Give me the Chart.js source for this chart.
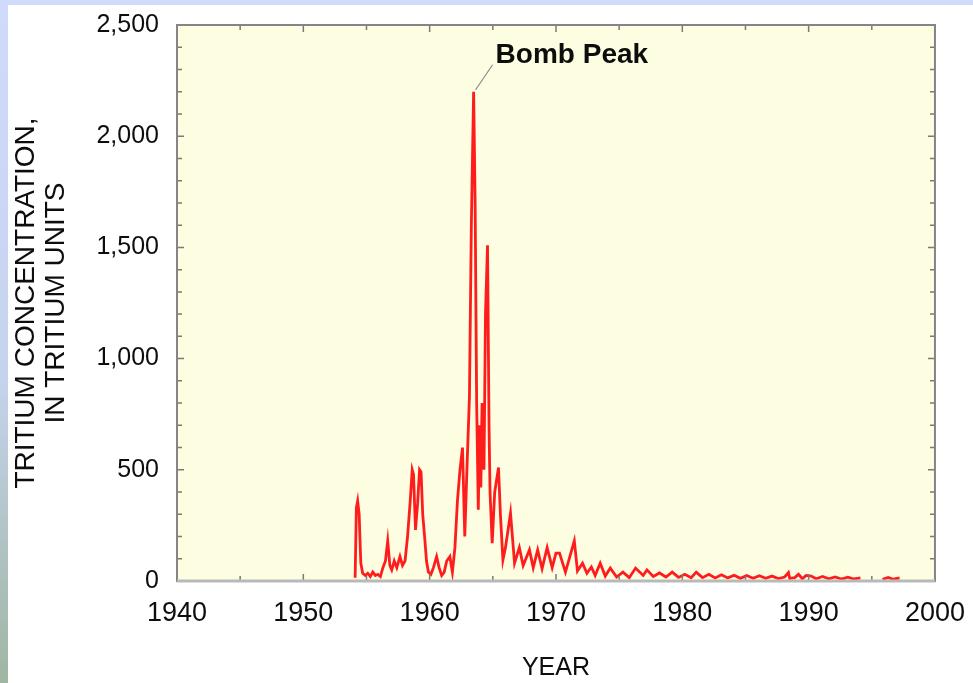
<!DOCTYPE html>
<html>
<head>
<meta charset="utf-8">
<title>Tritium concentration</title>
<script src="https://cdn.jsdelivr.net/npm/chart.js@4"></script>
<style>
    html, body { margin: 0; padding: 0; background: #ffffff; }
    #wrap { width: 973px; height: 683px; position: relative; }
</style>
</head>
<body>
<div id="wrap"><canvas id="tritiumChart"></canvas></div>
<script>
// ปี (ทศนิยม) และค่าทริเทียม อ่านจากภาพ — null = ช่วงที่ไม่มีข้อมูล
const years = [
    1954.10, 1954.20, 1954.30, 1954.42, 1954.55, 1954.70, 1954.90, 1955.10, 1955.30, 1955.50,
    1955.70, 1955.90, 1956.10, 1956.30, 1956.50, 1956.68, 1956.85, 1957.00, 1957.20, 1957.40,
    1957.65, 1957.85, 1958.05, 1958.25, 1958.45, 1958.62, 1958.72, 1958.88, 1959.05, 1959.20,
    1959.32, 1959.45, 1959.60, 1959.75, 1959.90, 1960.10, 1960.30, 1960.55, 1960.75, 1960.95,
    1961.15, 1961.35, 1961.60, 1961.80, 1962.00, 1962.20, 1962.40, 1962.60, 1962.78, 1962.95,
    1963.15, 1963.30, 1963.48, 1963.60, 1963.72, 1963.85, 1963.95, 1964.05, 1964.15, 1964.30,
    1964.42, 1964.58, 1964.70, 1964.78, 1964.95, 1965.15, 1965.45, 1965.60, 1965.80, 1966.00,
    1966.40, 1966.72, 1967.10, 1967.40, 1967.90, 1968.20, 1968.55, 1968.90, 1969.30, 1969.70,
    1970.00, 1970.28, 1970.75, 1971.45, 1971.70, 1972.10, 1972.45, 1972.80, 1973.10, 1973.50,
    1973.90, 1974.30, 1974.80, 1975.30, 1975.80, 1976.30, 1976.90, 1977.20, 1977.70, 1978.20,
    1978.70, 1979.20, 1979.70, 1980.20, 1980.70, 1981.10, 1981.60, 1982.10, 1982.60, 1983.10,
    1983.60, 1984.10, 1984.60, 1985.10, 1985.60, 1986.10, 1986.60, 1987.10, 1987.60, 1988.10,
    1988.40, 1988.50, 1988.90, 1989.20, 1989.50, 1989.80, 1990.20, 1990.60, 1991.10, 1991.60,
    1992.10, 1992.60, 1993.10, 1993.60, 1994.10, 1995.00, 1995.85, 1996.30, 1996.70, 1997.20
];
const tritium = [
    15, 330, 360, 300, 80, 35, 25, 35, 20, 40,
    25, 30, 20, 60, 90, 180, 70, 50, 90, 60,
    110, 70, 90, 200, 350, 500, 480, 230, 350, 500,
    490, 300, 200, 90, 40, 30, 60, 110, 60, 25,
    40, 90, 110, 40, 150, 360, 500, 600, 200, 500,
    830, 1600, 2200, 1700, 800, 320, 700, 420, 800, 500,
    1200, 1510, 700, 400, 170, 400, 510, 300, 95, 150,
    305, 80, 150, 70, 140, 60, 140, 55, 150, 60,
    125, 125, 40, 180, 45, 80, 35, 63, 25, 80,
    22, 58, 18, 40, 15, 58, 25, 50, 20, 36,
    18, 40, 16, 30, 15, 40, 15, 30, 14, 28,
    14, 26, 12, 25, 12, 24, 12, 22, 11, 18,
    38, 12, 15, 30, 10, 25, 22, 10, 20, 10,
    18, 9, 17, 9, 14, null, 8, 16, 8, 14
];
const yearTicks = [1940, 1950, 1960, 1970, 1980, 1990, 2000];
const concTicks = [0, 500, 1000, 1500, 2000, 2500];

const FONT = '"Liberation Sans", Arial, sans-serif';

// พื้นหลัง แถบสีฟ้า กรอบ และขีดสเกลด้านใน
const decorPlugin = {
    id: 'decor',
    beforeDraw(chart) {
        const { ctx, chartArea: a, width, height } = chart;
        ctx.save();
        ctx.fillStyle = '#ffffff';
        ctx.fillRect(0, 0, width, height);
        const g = ctx.createLinearGradient(0, 0, 0, height);
        g.addColorStop(0, '#d0dbfb');
        g.addColorStop(0.55, '#c6d3ee');
        g.addColorStop(1, '#9fb6a2');
        ctx.fillStyle = g;
        ctx.fillRect(0, 0, 8, height);
        ctx.fillStyle = '#d0dbfb';
        ctx.fillRect(0, 0, width, 5);
        ctx.fillStyle = '#fdfde2';
        ctx.fillRect(a.left, a.top, a.right - a.left, a.bottom - a.top);
        ctx.restore();
    },
    afterDraw(chart) {
        const { ctx, chartArea: a, scales } = chart;
        ctx.save();
        ctx.strokeStyle = '#7a7a7a';
        ctx.lineWidth = 1.5;
        for (let v = 0; v <= 2500; v += 100) {
            const y = scales.y.getPixelForValue(v);
            const len = v % 500 === 0 ? 7 : 5;
            ctx.beginPath();
            ctx.moveTo(a.left, y); ctx.lineTo(a.left + len, y);
            ctx.moveTo(a.right, y); ctx.lineTo(a.right - len, y);
            ctx.stroke();
        }
        for (let v = 1940; v <= 2000; v += 5) {
            const x = scales.x.getPixelForValue(v);
            const len = v % 10 === 0 ? 7 : 5;
            ctx.beginPath();
            ctx.moveTo(x, a.bottom); ctx.lineTo(x, a.bottom - len);
            ctx.moveTo(x, a.top); ctx.lineTo(x, a.top + len);
            ctx.stroke();
        }
        ctx.lineWidth = 2;
        ctx.strokeStyle = '#858585';
        ctx.strokeRect(a.left, a.top, a.right - a.left, a.bottom - a.top);
        ctx.strokeStyle = '#b9b9b9';
        ctx.lineWidth = 3;
        ctx.beginPath();
        ctx.moveTo(a.left, a.bottom); ctx.lineTo(a.right, a.bottom);
        ctx.stroke();

        // ป้าย Bomb Peak
        const px = scales.x.getPixelForValue(1963.48);
        const py = scales.y.getPixelForValue(2200);
        ctx.strokeStyle = '#8a8a8a';
        ctx.lineWidth = 1.2;
        ctx.beginPath();
        ctx.moveTo(px + 2, py - 2);
        ctx.lineTo(px + 19, py - 27);
        ctx.stroke();
        ctx.fillStyle = '#0d0d0d';
        ctx.font = 'bold 28px ' + FONT;
        ctx.textAlign = 'left';
        ctx.textBaseline = 'middle';
        ctx.fillText('Bomb Peak', px + 22, py - 36);
        ctx.restore();
    }
};

const points = years.map((yr, i) => ({ x: yr, y: tritium[i] }));

new Chart(document.getElementById('tritiumChart'), {
    type: 'line',
    data: {
        datasets: [{
            label: 'Tritium',
            data: points,
            borderColor: '#ff1c1c',
            borderWidth: 2.8,
            pointRadius: 0,
            tension: 0,
            spanGaps: false,
            fill: false
        }]
    },
    options: {
        responsive: true,
        maintainAspectRatio: false,
        animation: false,
        layout: { padding: { top: 18, right: 32, left: 0, bottom: 0 } },
        plugins: {
            legend: { display: false },
            tooltip: { enabled: false }
        },
        scales: {
            x: {
                type: 'linear',
                min: 1940,
                max: 2000,
                afterBuildTicks: s => { s.ticks = yearTicks.map(v => ({ value: v })); },
                afterFit: s => { s.height = 102; },
                ticks: {
                    padding: 8,
                    color: '#0d0d0d',
                    font: { family: FONT, size: 27 },
                    callback: v => String(v)
                },
                grid: { display: false },
                border: { display: false },
                title: {
                    display: true,
                    text: 'YEAR',
                    color: '#0d0d0d',
                    font: { family: FONT, size: 25 },
                    padding: { top: 24, bottom: 0 }
                }
            },
            y: {
                min: 0,
                max: 2500,
                afterBuildTicks: s => { s.ticks = concTicks.map(v => ({ value: v })); },
                afterFit: s => { s.width = 177; },
                ticks: {
                    padding: 10,
                    color: '#0d0d0d',
                    font: { family: FONT, size: 25 },
                    callback: v => v.toLocaleString('en-US')
                },
                grid: { display: false },
                border: { display: false },
                title: {
                    display: true,
                    text: ['TRITIUM CONCENTRATION,', 'IN TRITIUM UNITS'],
                    color: '#0d0d0d',
                    font: { family: FONT, size: 28, lineHeight: 1.05 },
                    padding: { top: 12, bottom: 0 }
                }
            }
        }
    },
    plugins: [decorPlugin]
});
</script>
</body>
</html>
